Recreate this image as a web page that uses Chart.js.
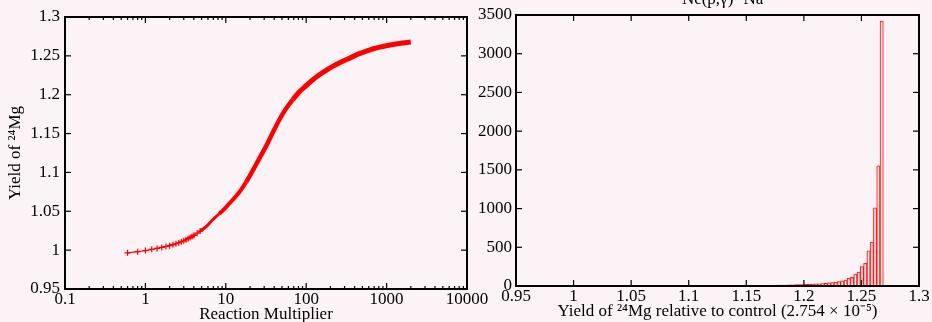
<!DOCTYPE html>
<html>
<head>
<meta charset="utf-8">
<script src="https://cdn.jsdelivr.net/npm/chart.js@4"></script>
<style>
  body { margin: 0; background: #fbf3f5; }
  #wrap { position: relative; width: 932px; height: 322px; overflow: hidden; }
  #curveChart { position: absolute; left: 0; top: 0; }
  #histChart { position: absolute; left: 470px; top: 0; }
</style>
</head>
<body>
<div id="wrap">
  <canvas id="curveChart" width="500" height="322"></canvas>
  <canvas id="histChart" width="462" height="322"></canvas>
</div>
<script>
// left panel: yield vs reaction multiplier
const multiplier = [0.6, 0.8, 1.0, 1.2, 1.4, 1.6, 1.8, 2.0, 2.2, 2.4, 2.6, 2.8, 3.0, 3.2, 3.4, 3.6, 3.8, 4.0, 4.4, 4.8,
  5.8, 6.87, 8.3, 10.1, 12.2, 14.8, 17.9, 21.6, 26, 31.6, 38.3, 46.4, 56, 68, 82, 99.7, 120, 146, 177, 214, 260, 313,
  380, 459, 560, 671, 820, 986, 1200, 1443, 1700, 2000];
const yield24Mg = [0.9965, 0.998, 0.9995, 1.001, 1.0022, 1.0035, 1.0047, 1.0058, 1.007, 1.0082, 1.0095, 1.0108, 1.012, 1.0134, 1.0148, 1.0162, 1.0175, 1.019, 1.0218, 1.0245,
  1.031, 1.0391, 1.0468, 1.0555, 1.0648, 1.0748, 1.0875, 1.1022, 1.1175, 1.1335, 1.151, 1.1678, 1.1818, 1.1936, 1.2035, 1.2116, 1.219, 1.2257, 1.2313, 1.2364, 1.241, 1.245,
  1.249, 1.2528, 1.2561, 1.2588, 1.2612, 1.2631, 1.2647, 1.266, 1.267, 1.2678];

// right panel: histogram of yields (100 bins)
const binStart = 0.984;
const binWidth = 0.00285;
const binCounts = [
  3, 3, 2, 2, 2, 2, 2, 2, 2, 2,
  2, 2, 2, 2, 2, 2, 3, 3, 3, 3,
  3, 3, 3, 3, 3, 3, 3, 3, 3, 3,
  3, 3, 3, 3, 3, 3, 3, 3, 3, 3,
  3, 3, 3, 4, 4, 4, 4, 4, 4, 4,
  4, 5, 5, 5, 5, 6, 6, 6, 7, 7,
  7, 7, 8, 8, 9, 9, 10, 11, 11, 12,
  13, 14, 16, 17, 18, 19, 21, 23, 25, 27,
  29, 32, 36, 40, 44, 50, 56, 66, 77, 100,
  112, 155, 180, 250, 292, 455, 566, 1008, 1552, 3420
];

const curveXTicks = [0.1, 1, 10, 100, 1000, 10000];
const curveYTicks = [0.95, 1, 1.05, 1.1, 1.15, 1.2, 1.25, 1.3];
const histXTicks = [0.95, 1, 1.05, 1.1, 1.15, 1.2, 1.25, 1.3];
const histYTicks = [0, 500, 1000, 1500, 2000, 2500, 3000, 3500];

const FONT = 'Liberation Serif';
Chart.defaults.font.family = FONT;
Chart.defaults.color = '#000';

// minor log ticks 2..9 per decade
const logMinor = [];
curveXTicks.slice(0, -1).forEach(d => { for (let m = 2; m <= 9; m++) logMinor.push(d * m); });

// frame with inward ticks on all four sides (gnuplot look)
const frameTicks = {
  id: 'frameTicks',
  afterDatasetsDraw(chart, args, opts) {
    const { ctx, chartArea: a, scales } = chart;
    const tick = (x1, y1, x2, y2) => { ctx.beginPath(); ctx.moveTo(x1, y1); ctx.lineTo(x2, y2); ctx.stroke(); };
    ctx.save();
    ctx.strokeStyle = '#000';
    ctx.lineWidth = 1.2;
    (opts.xMinor || []).forEach(v => {
      const p = scales.x.getPixelForValue(v);
      tick(p, a.bottom, p, a.bottom - 3);
      tick(p, a.top, p, a.top + 3);
    });
    scales.x.ticks.forEach(t => {
      const p = scales.x.getPixelForValue(t.value);
      tick(p, a.bottom, p, a.bottom - 6);
      tick(p, a.top, p, a.top + 6);
    });
    scales.y.ticks.forEach(t => {
      const p = scales.y.getPixelForValue(t.value);
      tick(a.left, p, a.left + 6, p);
      tick(a.right, p, a.right - 6, p);
    });
    ctx.lineWidth = 2;
    ctx.strokeRect(a.left, a.top, a.right - a.left, a.bottom - a.top);
    if (opts.title) {
      ctx.fillStyle = '#000';
      ctx.font = '17px "' + FONT + '"';
      ctx.textAlign = 'center';
      ctx.textBaseline = 'alphabetic';
      ctx.fillText(opts.title, (a.left + a.right) / 2, 3.5);
    }
    ctx.restore();
  }
};

const fixedTicks = list => s => { s.ticks = list.map(v => ({ value: v })); };

// left chart
new Chart(document.getElementById('curveChart'), {
  type: 'scatter',
  data: {
    datasets: [{
      data: multiplier.map((x, i) => ({ x: x, y: yield24Mg[i] })),
      showLine: true,
      borderColor: '#ff0000',
      backgroundColor: '#ff0000',
      tension: 0.3,
      segment: {
        borderWidth: c => {
          const x = c.p0.parsed.x;
          return x < 4.5 ? 1.2 : x < 8 ? 3 : x < 15 ? 4 : x < 60 ? 4.5 : 5;
        }
      },
      pointStyle: 'cross',
      pointRadius: c => (c.raw && c.raw.x < 5 ? 3 : 0),
      pointBorderWidth: 1.2,
      pointBorderColor: '#ff0000'
    }]
  },
  options: {
    responsive: false,
    animation: false,
    layout: { padding: { left: 0, right: 33, top: 17, bottom: 0 } },
    plugins: {
      legend: { display: false },
      tooltip: { enabled: false },
      frameTicks: { xMinor: logMinor }
    },
    scales: {
      x: {
        type: 'logarithmic',
        min: 0.1, max: 10000,
        grid: { display: false }, border: { display: false },
        afterBuildTicks: fixedTicks(curveXTicks),
        afterFit: s => { s.height = 33; },
        ticks: { autoSkip: false, maxRotation: 0, padding: -8, font: { size: 17 }, callback: v => String(v) },
        title: { display: true, text: 'Reaction Multiplier', font: { size: 17 }, padding: { top: 0, bottom: -3 } }
      },
      y: {
        min: 0.95, max: 1.3,
        grid: { display: false }, border: { display: false },
        afterBuildTicks: fixedTicks(curveYTicks),
        afterFit: s => { s.width = 65; },
        ticks: { autoSkip: false, padding: -3, font: { size: 17 }, callback: v => String(Number(v.toFixed(2))) },
        title: { display: true, text: 'Yield of ²⁴Mg', font: { size: 17 }, padding: { top: 5, bottom: 0 } }
      }
    }
  },
  plugins: [frameTicks]
});

// right chart
new Chart(document.getElementById('histChart'), {
  type: 'bar',
  data: {
    datasets: [{
      data: binCounts.map((c, i) => ({ x: binStart + (i + 0.5) * binWidth, y: c })),
      backgroundColor: 'rgba(255,255,255,0.5)',
      borderColor: '#ff0000',
      borderWidth: 0.75,
      barPercentage: 1,
      categoryPercentage: 1,
      grouped: false
    }]
  },
  options: {
    responsive: false,
    animation: false,
    layout: { padding: { left: 0, right: 13, top: 15, bottom: 0 } },
    plugins: {
      legend: { display: false },
      tooltip: { enabled: false },
      frameTicks: { title: '²²Ne(p,γ)²³Na' }
    },
    scales: {
      x: {
        type: 'linear',
        offset: false,
        min: 0.95, max: 1.3,
        grid: { display: false, offset: false }, border: { display: false },
        afterBuildTicks: fixedTicks(histXTicks),
        afterFit: s => { s.height = 36; },
        ticks: { autoSkip: false, maxRotation: 0, padding: -8, font: { size: 17 }, callback: v => String(Number(v.toFixed(2))) },
        title: { display: true, text: 'Yield of ²⁴Mg relative to control (2.754 × 10⁻⁵)', font: { size: 17 }, padding: { top: 0, bottom: 0 } }
      },
      y: {
        min: 0, max: 3500,
        grid: { display: false }, border: { display: false },
        afterBuildTicks: fixedTicks(histYTicks),
        afterFit: s => { s.width = 46; },
        ticks: { autoSkip: false, padding: -4, font: { size: 17 }, callback: v => String(v) }
      }
    }
  },
  plugins: [frameTicks]
});
</script>
</body>
</html>
